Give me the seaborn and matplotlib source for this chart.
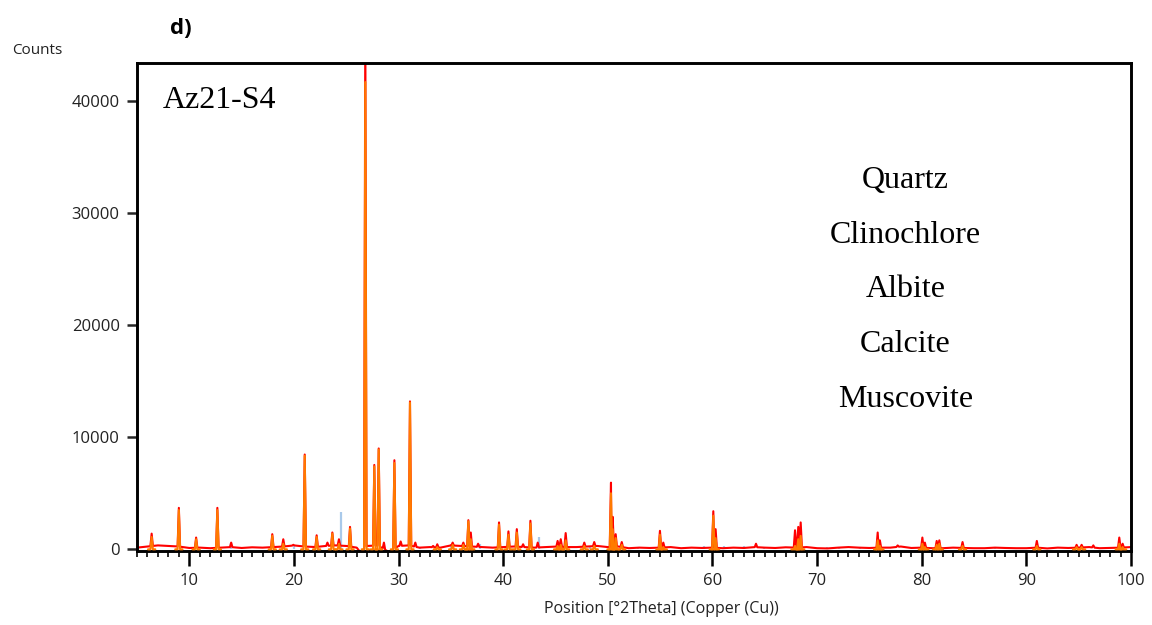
import numpy as np
import pandas as pd
import matplotlib
matplotlib.use("Agg")
import matplotlib.pyplot as plt
from matplotlib.ticker import MultipleLocator
import seaborn as sns

# Measured diffractogram: background level (counts)
bg_pos = [5, 6, 7, 8, 9, 10, 11, 12, 13, 14, 15, 16, 17, 18, 19, 20, 21, 22, 23, 24, 25,
          26, 26.35, 27, 28, 29.1, 30, 31, 32, 33, 34, 35, 36, 37, 38, 39, 40, 41, 42,
          43, 44, 45, 46, 47, 48, 49, 50, 51, 52, 53, 54, 55, 56, 57, 58, 59, 60, 61,
          62, 63, 64, 65, 66, 67, 68, 69, 70, 71, 72, 73, 74, 75, 76, 77, 78, 79, 80,
          81, 82, 83, 84, 85, 86, 87, 88, 89, 90, 91, 92, 93, 94, 95, 96, 97, 98, 99, 100]
bg_counts = [150, 250, 350, 300, 250, 120, 150, 100, 150, 200, 120, 180, 150, 200, 250,
             350, 250, 200, 300, 350, 300, 150, -270, 300, 350, -250, 300, 350, 150, 200,
             150, 350, 300, 250, 200, 150, 200, 250, 200, 150, 200, 250, 200, 200, 250,
             300, 200, 250, 100, 150, 120, 150, 200, 100, 150, 120, 150, 100, 150, 120,
             200, 150, 120, 180, 150, 200, 100, 80, 150, 200, 150, 120, 150, 150, 250,
             120, 150, 100, 100, 150, 120, 100, 100, 150, 120, 100, 100, 150, 80, 150,
             120, 150, 200, 100, 120, 150, 200]

# Measured reflections: 2-theta position and peak counts
peak_pos = [6.4, 9.0, 10.65, 12.68, 14.0, 17.93, 18.98, 19.94, 21.03, 22.17, 23.2, 23.67,
            24.3, 25.36, 26.82, 27.68, 28.1, 28.6, 29.6, 30.2, 31.09, 31.6, 33.3, 33.7,
            35.17, 36.19, 36.67, 36.9, 37.6, 39.6, 40.5, 41.3, 41.9, 42.6, 43.3, 45.2,
            45.5, 45.97, 47.75, 48.7, 50.3, 50.46, 50.75, 51.33, 54.98, 55.3, 60.08,
            60.3, 64.16, 67.89, 68.2, 68.43, 75.79, 76.0, 77.7, 80.06, 80.3, 81.43,
            81.68, 83.9, 91.0, 94.8, 95.28, 96.4, 98.88, 99.2]
peak_counts = [1400, 3700, 1050, 3700, 600, 1350, 900, 400, 8460, 1250, 600, 1500,
               900, 2000, 47000, 7530, 9000, 600, 7950, 700, 13200, 600, 300, 450,
               600, 600, 2600, 1500, 500, 2400, 1600, 1800, 450, 2550, 600, 750,
               900, 1450, 600, 650, 5950, 2900, 1350, 650, 1650, 600, 3400,
               1800, 500, 1700, 2000, 2400, 1500, 800, 350, 1050, 600, 750,
               800, 650, 750, 400, 400, 350, 1050, 500]

# Calculated profile heights for the same reflections
calc_counts = [1100, 3500, 900, 3500, 0, 1200, 500, 0, 8350, 1100, 0, 1400,
               500, 1850, 41700, 7400, 8900, 0, 7700, 0, 13100, 0, 0, 200,
               400, 400, 2500, 900, 0, 2200, 1300, 1500, 0, 2300, 0, 300,
               400, 800, 300, 300, 5000, 1800, 1000, 400, 1300, 200, 3000,
               1000, 0, 300, 900, 1200, 800, 300, 0, 500, 200, 400,
               500, 300, 300, 200, 200, 0, 500, 200]

# Reference pattern stick positions and intensities
stick_pos = [14.0, 20.0, 24.47, 32.0, 35.0, 37.8, 43.45, 45.8, 48.3, 50.8, 52.9, 57.3,
             59.2, 61.1, 63.0, 64.9, 70.9, 72.1, 74.1, 80.0, 87.0]
stick_counts = [600, 400, 3300, 250, 400, 500, 1100, 300, 250, 300, 200, 200,
                300, 300, 300, 250, 200, 200, 200, 250, 200]

minerals = ["Quartz", "Clinochlore", "Albite", "Calcite", "Muscovite"]
sample = "Az21-S4"

HW = 0.12


def bg_at(x):
    return float(np.interp(x, bg_pos, bg_counts))


# Measured trace as a polyline through background and peak vertices
vx, vy = [], []
for x, y in zip(bg_pos, bg_counts):
    if all(abs(x - p) > HW for p in peak_pos):
        vx.append(x)
        vy.append(y)
for p, h in zip(peak_pos, peak_counts):
    vx += [p - HW, p, p + HW]
    vy += [bg_at(p - HW), h, bg_at(p + HW)]
order = np.argsort(vx, kind="stable")
meas = pd.DataFrame({"pos": np.array(vx)[order], "counts": np.array(vy)[order]})

# Calculated profile: one small trace per reflection, sitting on zero
rows = []
for i, (p, h) in enumerate(zip(peak_pos, calc_counts)):
    if h <= 0:
        continue
    for x, y in [(p - 0.35, 0), (p - HW, 0), (p, h), (p + HW, 0), (p + 0.35, 0)]:
        rows.append({"peak": i, "pos": x, "counts": y})
calc = pd.DataFrame(rows)

sns.set_style("white")
plt.rcParams["font.family"] = ["Open Sans", "DejaVu Sans"]

fig = plt.figure(figsize=(11.52, 6.25), dpi=100)
ax = fig.add_axes([137 / 1152, 1 - 551 / 625, 994 / 1152, 488 / 625])

for p, h in zip(stick_pos, stick_counts):
    ax.vlines(p, 0, h, color="#a9c9ea", lw=1.6, zorder=1)

sns.lineplot(data=meas, x="pos", y="counts", color="#ff0000", lw=1.5,
             estimator=None, sort=False, ax=ax, zorder=2)
sns.lineplot(data=calc, x="pos", y="counts", units="peak", color="#ff7a00", lw=1.5,
             estimator=None, sort=False, ax=ax, zorder=3)

ax.set_xlim(5, 100)
ax.set_ylim(-150, 43400)
ax.set_yticks([0, 10000, 20000, 30000, 40000])
ax.xaxis.set_major_locator(MultipleLocator(10))
ax.xaxis.set_minor_locator(MultipleLocator(1))
ax.tick_params(axis="x", which="major", direction="out", length=11, width=1.8,
               labelsize=12, pad=5, colors="black", labelcolor="#222222", bottom=True)
ax.tick_params(axis="x", which="minor", direction="out", length=4.5, width=1.4,
               bottom=True)
ax.tick_params(axis="y", which="major", direction="out", length=7.5, width=1.8,
               labelsize=12, pad=5, labelcolor="#222222", left=True)
for s in ax.spines.values():
    s.set_visible(True)
    s.set_color("black")
    s.set_linewidth(2.1)

ax.set_xlabel("")
ax.set_ylabel("")

ax.text(0.026, 0.924, sample, transform=ax.transAxes, family="Liberation Serif",
        fontsize=23, ha="left", va="center", color="black")
for i, m in enumerate(minerals):
    ax.text(0.773, 0.760 - i * 0.1125, m, transform=ax.transAxes,
            family="Liberation Serif", fontsize=23, ha="center", va="center",
            color="black")

fig.text(661 / 1152, 1 - 609 / 625, "Position [°2Theta] (Copper (Cu))", fontsize=11.5,
         color="#222222", ha="center", va="center")
fig.text(12 / 1152, 1 - 51 / 625, "Counts", fontsize=11, color="#222222",
         ha="left", va="center")
fig.text(181 / 1152, 1 - 28 / 625, "d)", fontsize=16, fontweight="bold",
         color="black", ha="center", va="center")

fig.savefig("out.png", dpi=100, facecolor="white")
